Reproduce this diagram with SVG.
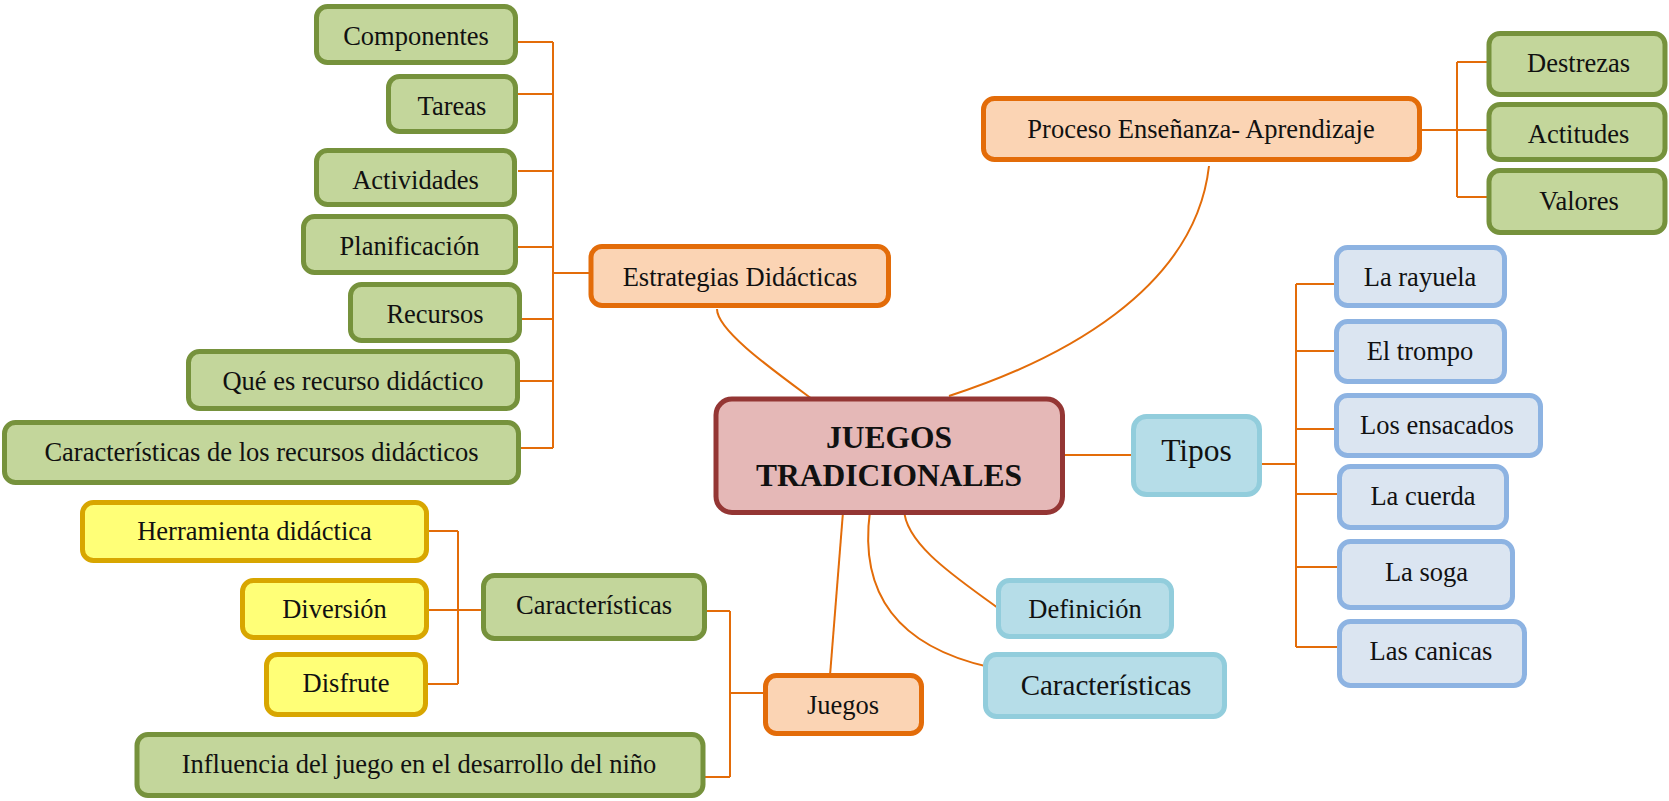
<svg xmlns="http://www.w3.org/2000/svg" width="1669" height="801" viewBox="0 0 1669 801">
<style>
text{font-family:"Liberation Serif","Times New Roman",serif;font-size:26.5px;fill:#111;text-anchor:middle}
text.main{font-size:31.5px;font-weight:bold}
text.t31{font-size:31.5px}
text.t29{font-size:29px}
rect{stroke-width:5}
.g{fill:#C3D69B;stroke:#76923C}
.o{fill:#FBD4B4;stroke:#E36C09}
.c{fill:#E5B8B7;stroke:#943634}
.lb{fill:#B6DDE8;stroke:#92CDDC}
.b{fill:#DBE5F1;stroke:#8DB3E2}
.y{fill:#FFFF77;stroke:#D8A600}
.con path{fill:none;stroke:#E36C09;stroke-width:2}
</style>
<rect width="1669" height="801" fill="#fff"/>
<g class="con">
<path d="M518,42H553M518,94H553M518,171H553M518,247H553M521,319H553M519,381H553M520,448H553M553,42V448M553,273H591"/>
<path d="M717,309C717,330 770,368 812,399"/>
<path d="M1209,166C1195,290 1060,360 949,396"/>
<path d="M1062,455H1133.5"/>
<path d="M1422,130H1457M1457,62V197M1457,62H1489M1457,130H1489M1457,197H1489"/>
<path d="M1262,464H1296M1296,284V647M1296,284H1336.5M1296,351H1336.5M1296,429H1336.5M1296,494H1339.5M1296,567H1339.5M1296,647H1339.5"/>
<path d="M843,512L830,675.5"/>
<path d="M870,511C858,600 905,648 989,667"/>
<path d="M904,509C905,545 960,580 998,608"/>
<path d="M429,531H458M429,610H458M428,684H458M458,531V684M458,610H483.5"/>
<path d="M705,611H730M705,777H730M730,611V777M730,693H765.5"/>
</g>
<g id="componentes"><rect class="g" x="316.5" y="6.5" width="199" height="56" rx="11"/><text x="416" y="45">Componentes</text></g>
<g id="tareas"><rect class="g" x="388.5" y="76.5" width="127" height="55" rx="11"/><text x="452" y="115">Tareas</text></g>
<g id="actividades"><rect class="g" x="316.5" y="150.5" width="198" height="54" rx="11"/><text x="415.5" y="189">Actividades</text></g>
<g id="planificacion"><rect class="g" x="303.5" y="216.5" width="212" height="56" rx="11"/><text x="409.5" y="255">Planificación</text></g>
<g id="recursos"><rect class="g" x="350.5" y="284.5" width="169" height="56" rx="11"/><text x="435" y="323">Recursos</text></g>
<g id="que-es"><rect class="g" x="188.5" y="351.5" width="329" height="57" rx="11"/><text x="353" y="390">Qué es recurso didáctico</text></g>
<g id="caract-recursos"><rect class="g" x="4.5" y="422.5" width="514" height="60" rx="11"/><text x="261.5" y="461">Características de los recursos didácticos</text></g>
<g id="estrategias"><rect class="o" x="591" y="246.5" width="297.5" height="59" rx="11"/><text x="740" y="286">Estrategias Didácticas</text></g>
<g id="central"><rect class="c" x="716" y="399" width="346.5" height="113.5" rx="16"/><text class="main" x="889" y="448">JUEGOS</text><text class="main" x="889" y="486">TRADICIONALES</text></g>
<g id="proceso"><rect class="o" x="983.5" y="98.5" width="436" height="61" rx="11"/><text x="1201" y="138">Proceso Enseñanza- Aprendizaje</text></g>
<g id="destrezas"><rect class="g" x="1489" y="33.5" width="176" height="61" rx="11"/><text x="1578.6" y="72">Destrezas</text></g>
<g id="actitudes"><rect class="g" x="1489" y="104.5" width="176" height="55" rx="11"/><text x="1578.6" y="143">Actitudes</text></g>
<g id="valores"><rect class="g" x="1489" y="170.5" width="176" height="62" rx="11"/><text x="1579" y="210">Valores</text></g>
<g id="tipos"><rect class="lb" x="1133.5" y="416.5" width="126" height="78" rx="13"/><text class="t31" x="1196.5" y="461">Tipos</text></g>
<g id="rayuela"><rect class="b" x="1336.5" y="247.5" width="168" height="58" rx="11"/><text x="1420" y="286">La rayuela</text></g>
<g id="trompo"><rect class="b" x="1336.5" y="321.5" width="168" height="60" rx="11"/><text x="1420" y="360">El trompo</text></g>
<g id="ensacados"><rect class="b" x="1336.5" y="395.5" width="204" height="60" rx="11"/><text x="1437" y="434">Los ensacados</text></g>
<g id="cuerda"><rect class="b" x="1339.5" y="466.5" width="167" height="61" rx="11"/><text x="1423" y="505">La cuerda</text></g>
<g id="soga"><rect class="b" x="1339.5" y="541.5" width="173" height="66" rx="11"/><text x="1426.5" y="581">La soga</text></g>
<g id="canicas"><rect class="b" x="1339.5" y="621.5" width="185" height="64" rx="11"/><text x="1431" y="660">Las canicas</text></g>
<g id="definicion"><rect class="lb" x="998.5" y="580.5" width="173" height="56" rx="11"/><text x="1085" y="618">Definición</text></g>
<g id="caract-blue"><rect class="lb" x="985.5" y="654.5" width="239" height="62" rx="11"/><text class="t29" x="1106" y="695">Características</text></g>
<g id="juegos"><rect class="o" x="765.5" y="675.5" width="156" height="58" rx="11"/><text x="843" y="714">Juegos</text></g>
<g id="caract-green"><rect class="g" x="483.5" y="575.5" width="221" height="63" rx="11"/><text x="594" y="614">Características</text></g>
<g id="herramienta"><rect class="y" x="82.5" y="502.5" width="344" height="58" rx="11"/><text x="254.5" y="540">Herramienta didáctica</text></g>
<g id="diversion"><rect class="y" x="242.5" y="580.5" width="184" height="57" rx="11"/><text x="334.5" y="618">Diversión</text></g>
<g id="disfrute"><rect class="y" x="266.5" y="654.5" width="159" height="60" rx="11"/><text x="346" y="692">Disfrute</text></g>
<g id="influencia"><rect class="g" x="137" y="734.5" width="566" height="61" rx="11"/><text x="419" y="773">Influencia del juego en el desarrollo del niño</text></g>
</svg>
